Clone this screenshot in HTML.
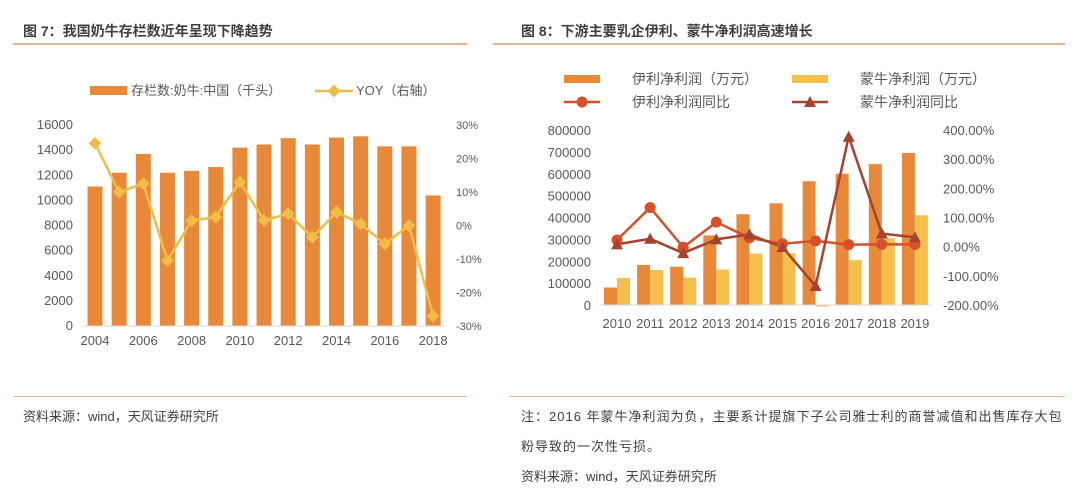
<!DOCTYPE html>
<html><head><meta charset="utf-8"><style>
body{margin:0;width:1080px;height:499px;background:#fff;font-family:"Liberation Sans","Noto Sans CJK SC",sans-serif;overflow:hidden;position:relative}
.t{position:absolute;font-size:14px;font-weight:bold;color:#404040}
.ln{position:absolute;height:2px;background:#e8b48e}
.n{position:absolute;font-size:13px;color:#404040}
svg{position:absolute;left:0;top:0}
text{font-family:"Liberation Sans","Noto Sans CJK SC",sans-serif}
</style></head><body>
<div class="t" style="left:23px;top:21px">图 7：我国奶牛存栏数近年呈现下降趋势</div>
<div class="t" style="left:521px;top:21px">图 8：下游主要乳企伊利、蒙牛净利润高速增长</div>
<div class="ln" style="left:13px;top:43px;width:454px"></div>
<div class="ln" style="left:493px;top:43px;width:572px"></div>
<div class="ln" style="left:13px;top:396px;width:454px;height:1px"></div>
<div class="ln" style="left:510px;top:396px;width:555px;height:1px"></div>
<div class="n" style="left:23px;top:406px">资料来源：wind，天风证券研究所</div>
<div class="n" style="left:521px;top:402px;width:560px;line-height:30px;letter-spacing:1px">注：2016 年蒙牛净利润为负，主要系计提旗下子公司雅士利的商誉减值和出售库存大包<br>粉导致的一次性亏损。</div>
<div class="n" style="left:521px;top:466px">资料来源：wind，天风证券研究所</div>
<svg id="c" width="1080" height="499"></svg>
<script>
const years1=[2004,2005,2006,2007,2008,2009,2010,2011,2012,2013,2014,2015,2016,2017,2018];
const herd=[11100,12200,13700,12200,12350,12650,14200,14450,14950,14450,15000,15100,14300,14300,10400];
const yoy1=[24.5,10,12.5,-10.5,1.5,2.5,13,1.5,3.5,-3.5,4,0.5,-5.5,0,-27];
const leftTicks=[0,2000,4000,6000,8000,10000,12000,14000,16000];
const rightTicks1=[-30,-20,-10,0,10,20,30];
const years2=[2010,2011,2012,2013,2014,2015,2016,2017,2018,2019];
const yili=[80000,183000,175000,318000,415000,465000,566000,600000,644000,695000];
const meng=[123000,160000,125000,162000,235000,237000,-7000,205000,305000,410000];
const yiliYoy=[23,134,-2,84,30,10,20,7,8,8];
const mengYoy=[8,27,-22,25,42,-2,-135,377,45,32];
const leftTicks2=[0,100000,200000,300000,400000,500000,600000,700000,800000];
const rightTicks2=[-200,-100,0,100,200,300,400];

const svg=document.getElementById('c');const NS='http://www.w3.org/2000/svg';
function el(tag,attrs,name,txt){const e=document.createElementNS(NS,tag);for(const k in attrs)e.setAttribute(k,attrs[k]);


if(txt!==undefined)e.textContent=txt;svg.appendChild(e);return e;}

// chart 1
const y1=v=>326-v/16000*201, r1=v=>326-(v+30)/60*201, x1=i=>95+i*24.15;
leftTicks.forEach(v=>el('text',{x:73,y:y1(v)+4,'text-anchor':'end','font-size':13,fill:'#595959'},'left-y-tick',v));
rightTicks1.forEach(v=>el('text',{x:456,y:r1(v)+4,'font-size':11,fill:'#595959'},'left-y2-tick',v+'%'));
herd.forEach((v,i)=>el('rect',{x:x1(i)-7.5,y:y1(v),width:15,height:326-y1(v),fill:'#e8893a'},'herd-bar'));
el('line',{x1:83,y1:326,x2:445,y2:326,stroke:'#d9d9d9'},'left-x-axis');
years1.forEach((y,i)=>{if(i%2==0)el('text',{x:x1(i),y:345,'text-anchor':'middle','font-size':13,fill:'#595959'},'left-x-tick',y)});
el('polyline',{points:yoy1.map((v,i)=>x1(i)+','+r1(v)).join(' '),fill:'none',stroke:'#f2bd45','stroke-width':2.5},'yoy-line');
yoy1.forEach((v,i)=>el('rect',{x:x1(i)-4.5,y:r1(v)-4.5,width:9,height:9,fill:'#f2bd45',transform:`rotate(45 ${x1(i)} ${r1(v)})`},'yoy-point'));
el('rect',{x:90,y:86,width:37,height:9,fill:'#e8893a'},'legend-herd-swatch');
el('text',{x:131,y:95,'font-size':13,fill:'#595959'},'legend-herd','存栏数:奶牛:中国（千头）');
el('line',{x1:315,y1:91,x2:353,y2:91,stroke:'#f2bd45','stroke-width':2.5},'legend-yoy-line');
el('rect',{x:329.5,y:86.5,width:9,height:9,fill:'#f2bd45',transform:'rotate(45 334 91)'},'legend-yoy-marker');
el('text',{x:356,y:95,'font-size':13,fill:'#595959'},'legend-yoy','YOY（右轴）');

// chart 2
const y2=v=>305-v/800000*175, r2=v=>305-(v+200)/600*175, x2=i=>617+i*33.1;
leftTicks2.forEach(v=>el('text',{x:591,y:y2(v)+5,'text-anchor':'end','font-size':13,fill:'#595959'},'right-y-tick',v));
rightTicks2.forEach(v=>el('text',{x:943,y:r2(v)+5,'font-size':13,fill:'#595959'},'right-y2-tick',v.toFixed(2)+'%'));
yili.forEach((v,i)=>el('rect',{x:x2(i)-13,y:y2(v),width:13,height:305-y2(v),fill:'#e8893a'},'yili-bar'));
meng.forEach((v,i)=>el('rect',{x:x2(i),y:Math.min(y2(v),305),width:13,height:Math.abs(305-y2(v)),fill:'#f4c04b'},'mengniu-bar'));
el('line',{x1:600,y1:305,x2:932,y2:305,stroke:'#d9d9d9'},'right-x-axis');
years2.forEach((y,i)=>el('text',{x:x2(i),y:328,'text-anchor':'middle','font-size':13,fill:'#595959'},'right-x-tick',y));
el('polyline',{points:yiliYoy.map((v,i)=>x2(i)+','+r2(v)).join(' '),fill:'none',stroke:'#d5502b','stroke-width':2.5},'yili-yoy-line');
el('polyline',{points:mengYoy.map((v,i)=>x2(i)+','+r2(v)).join(' '),fill:'none',stroke:'#a6432f','stroke-width':2.5},'mengniu-yoy-line');
yiliYoy.forEach((v,i)=>el('circle',{cx:x2(i),cy:r2(v),r:5.5,fill:'#d5502b'},'yili-yoy-point'));
mengYoy.forEach((v,i)=>{const x=x2(i),y=r2(v);el('polygon',{points:`${x},${y-6} ${x-6},${y+5} ${x+6},${y+5}`,fill:'#a6432f'},'mengniu-yoy-point')});
el('rect',{x:564,y:75,width:36,height:8,fill:'#e8893a'},'legend-yili-swatch');
el('text',{x:632,y:84,'font-size':14,fill:'#595959'},'legend-yili','伊利净利润（万元）');
el('rect',{x:792,y:75,width:36,height:8,fill:'#f4c04b'},'legend-mengniu-swatch');
el('text',{x:860,y:84,'font-size':14,fill:'#595959'},'legend-mengniu','蒙牛净利润（万元）');
el('line',{x1:564,y1:102,x2:600,y2:102,stroke:'#d5502b','stroke-width':2.5},'legend-yili-yoy-line');
el('circle',{cx:582,cy:102,r:5.5,fill:'#d5502b'},'legend-yili-yoy-marker');
el('text',{x:632,y:107,'font-size':14,fill:'#595959'},'legend-yili-yoy','伊利净利润同比');
el('line',{x1:792,y1:102,x2:828,y2:102,stroke:'#a6432f','stroke-width':2.5},'legend-mengniu-yoy-line');
el('polygon',{points:'810,96 804,107 816,107',fill:'#a6432f'},'legend-mengniu-yoy-marker');
el('text',{x:860,y:107,'font-size':14,fill:'#595959'},'legend-mengniu-yoy','蒙牛净利润同比');
</script>
</body></html>
